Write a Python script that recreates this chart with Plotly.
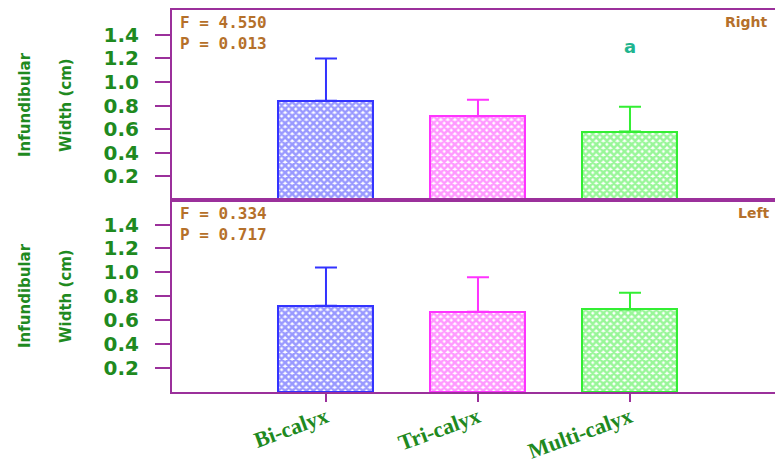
import plotly.graph_objects as go

categories = ["Bi-calyx", "Tri-calyx", "Multi-calyx"]
right_means = [0.84, 0.71, 0.58]
right_err = [0.36, 0.14, 0.21]
left_means = [0.72, 0.67, 0.69]
left_err = [0.32, 0.29, 0.14]
bar_colors = ["#3333ff", "#ff33ff", "#33ee33"]
ytick_vals = [0.2, 0.4, 0.6, 0.8, 1.0, 1.2, 1.4]
right_stats = ["F = 4.550", "P = 0.013"]
left_stats = ["F = 0.334", "P = 0.717"]
sig_letter = "a"

PURPLE = "#9B309B"
GREEN = "#1f8a1f"
BROWN = "#b5702a"

fig = go.Figure()

def add_bars(means, errs, xa, ya):
    for i, cat in enumerate(categories):
        fig.add_trace(go.Bar(
            x=[cat], y=[means[i]], xaxis=xa, yaxis=ya, width=0.625,
            marker=dict(color="white",
                        line=dict(color=bar_colors[i], width=2),
                        pattern=dict(shape="x", fgcolor=bar_colors[i], bgcolor="white",
                                     size=5, solidity=0.75)),
            error_y=dict(type="data", array=[errs[i]], arrayminus=[0], symmetric=False,
                         color=bar_colors[i], thickness=2, width=11),
            showlegend=False,
        ))

add_bars(right_means, right_err, "x", "y")
add_bars(left_means, left_err, "x2", "y2")

H = 465.0
W = 775.0
top_dom = [1 - 200 / H, 1 - 10 / H]
bot_dom = [1 - 392 / H, 1 - 200 / H]
x_dom = [172 / W, 1.0]
xr = [-1.013, 2.954]

yaxis_common = dict(showline=True, linecolor=PURPLE, linewidth=2, ticks="outside",
                    ticklen=15, tickwidth=2, tickcolor=PURPLE, tickvals=ytick_vals,
                    tickformat=".1f", showgrid=False, zeroline=False, automargin=False,
                    tickfont=dict(family="DejaVu Sans", size=20, color=GREEN, weight="bold"),
                    ticklabelstandoff=12)

fig.update_layout(
    width=775, height=465,
    margin=dict(l=0, r=0, t=0, b=0, autoexpand=False),
    paper_bgcolor="white", plot_bgcolor="white",
    bargap=0,
    xaxis=dict(domain=x_dom, anchor="y", range=xr, showline=True, mirror=True,
               linecolor=PURPLE, linewidth=2, showticklabels=False, ticks="",
               showgrid=False, zeroline=False, categoryorder="array", automargin=False,
               categoryarray=categories),
    yaxis=dict(domain=top_dom, anchor="x", range=[0, 1.61], **yaxis_common),
    xaxis2=dict(domain=x_dom, anchor="y2", range=xr, showline=True, mirror=True,
                linecolor=PURPLE, linewidth=2, ticks="outside", ticklen=8, tickwidth=2,
                tickcolor=PURPLE, tickangle=-20, showgrid=False, zeroline=False,
                categoryorder="array", categoryarray=categories, automargin=False,
                ticklabelstandoff=-6,
                tickfont=dict(family="Liberation Serif", size=22, color=GREEN, weight="bold")),
    yaxis2=dict(domain=bot_dom, anchor="x2", range=[0, 1.605], **yaxis_common),
)

ann = []
# Y titles
for dom in (top_dom, bot_dom):
    yc = (dom[0] + dom[1]) / 2
    ann.append(dict(text="Infundibular", x=25 / W, y=yc, xref="paper", yref="paper",
                    textangle=-90, showarrow=False, xanchor="center", yanchor="middle",
                    font=dict(family="DejaVu Sans", size=15, color=GREEN, weight="bold")))
    ann.append(dict(text="Width (cm)", x=66 / W, y=yc, xref="paper", yref="paper",
                    textangle=-90, showarrow=False, xanchor="center", yanchor="middle",
                    font=dict(family="DejaVu Sans", size=15, color=GREEN, weight="bold")))

stat_font = dict(family="DejaVu Sans Mono", size=16, color=BROWN, weight="bold")
ann.append(dict(text=right_stats[0] + "<br>" + right_stats[1], x=178 / W, y=1 - 11 / H,
                xref="paper", yref="paper", showarrow=False, xanchor="left", yanchor="top",
                align="left", font=stat_font))
ann.append(dict(text=left_stats[0] + "<br>" + left_stats[1], x=178 / W, y=1 - 202 / H,
                xref="paper", yref="paper", showarrow=False, xanchor="left", yanchor="top",
                align="left", font=stat_font))
ann.append(dict(text="Right", x=770 / W, y=1 - 12 / H, xref="paper", yref="paper",
                showarrow=False, xanchor="right", yanchor="top",
                font=dict(family="DejaVu Sans", size=14, color=BROWN, weight="bold")))
ann.append(dict(text="Left", x=772 / W, y=1 - 203 / H, xref="paper", yref="paper",
                showarrow=False, xanchor="right", yanchor="top",
                font=dict(family="DejaVu Sans", size=14, color=BROWN, weight="bold")))
ann.append(dict(text=sig_letter, x=categories[2], y=1.30, xref="x", yref="y",
                showarrow=False, xanchor="center", yanchor="middle",
                font=dict(family="DejaVu Sans", size=18, color="#1fb58f", weight="bold")))

fig.update_layout(annotations=ann)
fig.write_html("out.html", config={"displayModeBar": False},
               post_script="document.body.style.margin='0px';document.body.style.overflow='hidden';")
